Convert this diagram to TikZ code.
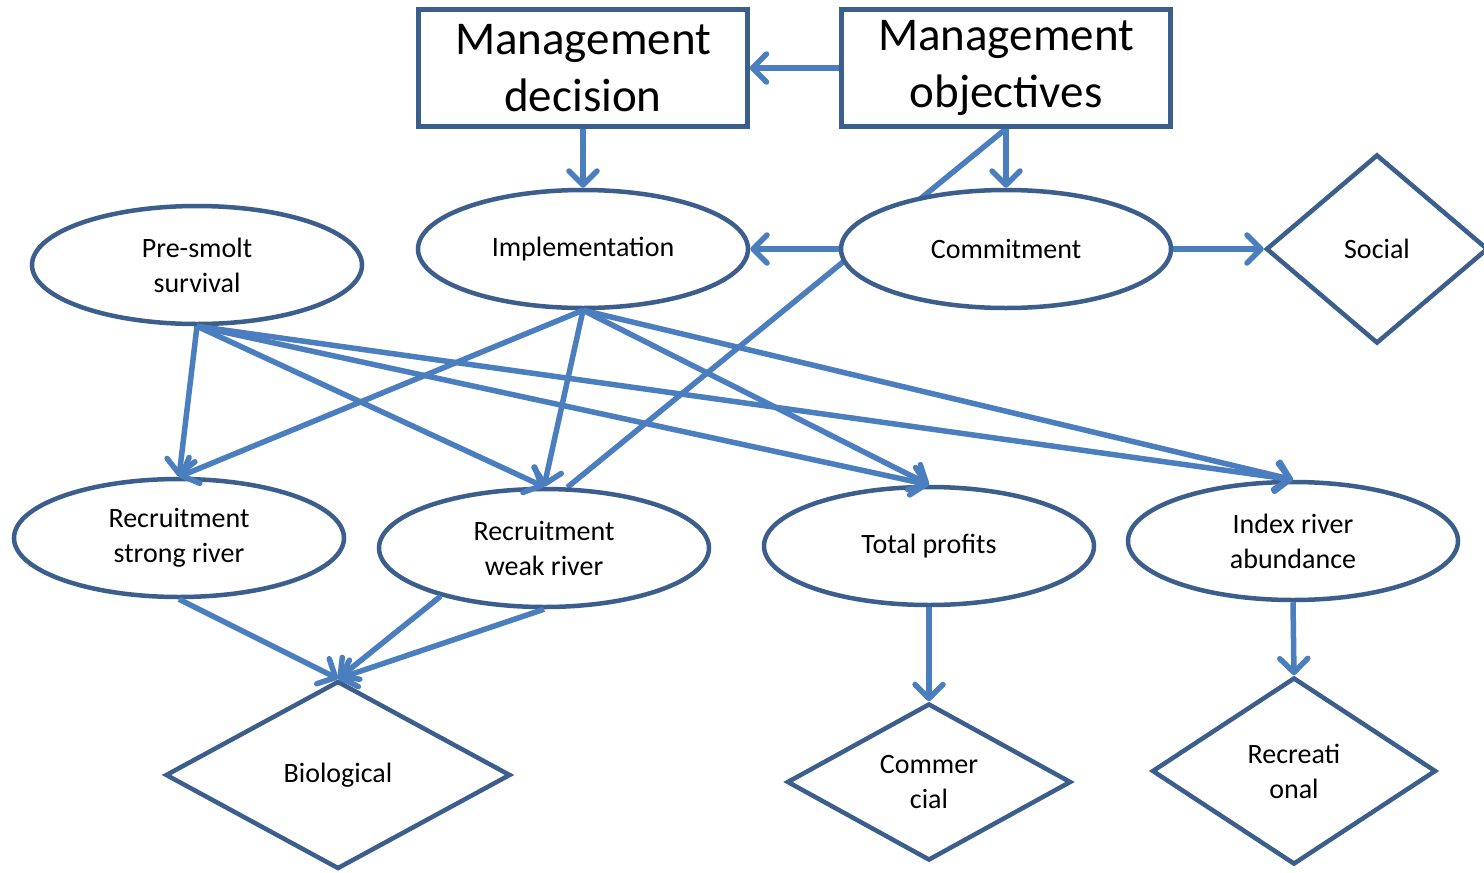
\documentclass[tikz,border=0pt]{standalone}
\usepackage{fontspec}
\setmainfont{Carlito}
\usetikzlibrary{shapes.geometric,arrows.meta,backgrounds}
\definecolor{edgeblue}{HTML}{3B5E8C}
\definecolor{arrowblue}{HTML}{4A7EBF}

\begin{document}
\begin{tikzpicture}[x=1pt,y=-1pt,
		box/.style={rectangle,draw=edgeblue,line width=4.5pt,fill=white,minimum width=329pt,minimum height=117pt,align=center,font=\fontsize{47}{57}\selectfont},
		var/.style={ellipse,draw=edgeblue,line width=4.5pt,fill=white,minimum width=330pt,minimum height=118pt,align=center,font=\fontsize{28}{35}\selectfont},
		goal/.style={diamond,draw=edgeblue,line width=4.5pt,fill=white,aspect=1.6,inner sep=0pt,align=center,font=\fontsize{28}{35}\selectfont},
		link/.style={draw=arrowblue,line width=5.5pt},
		arr/.style={link,-{Straight Barb[round,length=14pt,width=28pt]}}
		]
	\useasboundingbox (0,0) rectangle (1484,873);
	% decisions and objectives
	\node [box] (dec) at (583,68) {Management\\decision};
	\node [box] (obj) at (1006,68) {Management\\objectives};
	\node [var] (impl) at (583,249) {Implementation};
	\node [var] (comm) at (1006,249) {Commitment};
	\node [var] (smolt) at (197,265) {Pre-smolt\\survival};
	\node [goal,minimum width=222pt,minimum height=189pt] (soc) at (1377,249) {Social};
	% outcomes
	\node [var] (strong) at (179,538) {Recruitment\\strong river};
	\node [var] (weak) at (544,548) {Recruitment\\weak river};
	\node [var] (profit) at (929,546) {Total profits};
	\node [var] (index) at (1293,541) {Index river\\abundance};
	% utilities
	\node [goal,minimum width=345pt,minimum height=188pt] (bio) at (338,775) {Biological};
	\node [goal,minimum width=284pt,minimum height=157pt] (com) at (929,782) {Commer\\cial};
	\node [goal,minimum width=284pt,minimum height=187pt] (rec) at (1294,771) {Recreati\\onal};
	\begin{scope}[on background layer]
		\fill [white] (0,0) rectangle (1484,873);
		\draw [link] (obj.south) -- (weak.69);
	\end{scope}
	\draw [arr] (obj) -- (dec);
	\draw [arr] (dec) -- (impl);
	\draw [arr] (obj) -- (comm);
	\draw [arr] (comm) -- (impl);
	\draw [arr] (comm) -- (soc);
	\foreach \t in {strong,weak,profit,index} {
		\draw [arr] (smolt.south) -- (\t.north);
		\draw [arr] (impl.south) -- (\t.north);
	}
	\draw [arr] (strong.south) -- (bio.north);
	\draw [arr] (weak.205) -- (bio.north);
	\draw [arr] (weak.south) -- (bio.north);
	\draw [arr] (profit.south) -- (com.north);
	\draw [arr] (index.south) -- (rec.north);
\end{tikzpicture}
\end{document}
